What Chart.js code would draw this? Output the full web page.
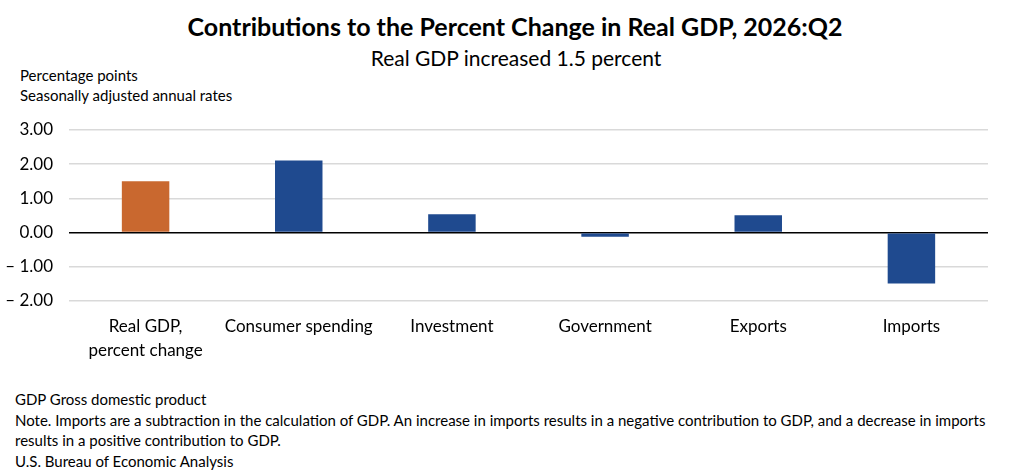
<!DOCTYPE html>
<html>
<head>
<meta charset="utf-8">
<script src="https://cdn.jsdelivr.net/npm/chart.js@4.4.1/dist/chart.umd.min.js"></script>
<style>
  html, body { margin: 0; padding: 0; background: #fff; }
  #page { position: relative; width: 1010px; height: 476px; font-family: Lato, "Noto Sans", sans-serif; color: #000; overflow: hidden; }
  .abs { position: absolute; white-space: nowrap; }
  #title { left: 0; width: 1030px; top: 11px; text-align: center; font-size: 25px; font-weight: bold; }
  #subtitle { left: 0; width: 1032px; top: 45px; text-align: center; font-size: 21px; }
  #ytitle { left: 20px; top: 65px; font-size: 15px; line-height: 20px; }
  #notes { left: 15px; top: 389px; font-size: 15px; line-height: 20.5px; }
  #box { position: absolute; left: 0; top: 110px; width: 1010px; height: 260px; }
</style>
</head>
<body>
<div id="page">
  <div class="abs" id="title">Contributions to the Percent Change in Real GDP, 2026:Q2</div>
  <div class="abs" id="subtitle">Real GDP increased 1.5 percent</div>
  <div class="abs" id="ytitle">Percentage points<br>Seasonally adjusted annual rates</div>
  <div id="box"><canvas id="chart"></canvas></div>
  <div class="abs" id="notes">GDP Gross domestic product<br>Note. Imports are a subtraction in the calculation of GDP. An increase in imports results in a negative contribution to GDP, and a decrease in imports<br>results in a positive contribution to GDP.<br>U.S. Bureau of Economic Analysis</div>
</div>
<script>
"use strict";
// categories and values
var categories = [["Real GDP,", "percent change"], "Consumer spending", "Investment", "Government", "Exports", "Imports"];
var contributions = [1.50, 2.11, 0.54, -0.12, 0.51, -1.49];
var barColors = ["#C9682F", "#1F4A8F", "#1F4A8F", "#1F4A8F", "#1F4A8F", "#1F4A8F"];
var yTicks = [-2, -1, 0, 1, 2, 3];

function fmtTick(v) {
	if (v < 0) return "\u2013 " + Math.abs(v).toFixed(2);
	return v.toFixed(2);
}

new Chart(document.getElementById("chart"), {
	type: "bar",
	data: {
		labels: categories,
		datasets: [{
			data: contributions,
			backgroundColor: barColors,
			categoryPercentage: 1,
			barPercentage: 0.31
		}]
	},
	options: {
		responsive: true,
		maintainAspectRatio: false,
		animation: false,
		layout: { padding: { top: 20, right: 22, left: 0, bottom: 0 } },
		plugins: { legend: { display: false }, tooltip: { enabled: false } },
		scales: {
			x: {
				grid: { display: false, drawTicks: false },
				border: { display: false },
				ticks: {
					color: "#000",
					padding: 14,
					maxRotation: 0,
					autoSkip: false,
					font: { family: "Lato", size: 17, lineHeight: 1.4 }
				},
				afterFit: (scale) => { scale.height = 69; }
			},
			y: {
				min: yTicks[0],
				max: yTicks[yTicks.length - 1],
				afterBuildTicks: (scale) => { scale.ticks = yTicks.map((v) => ({ value: v })); },
				grid: {
					// invisible tick marks keep the labels off the plot without adding top padding
					drawTicks: true,
					tickLength: 16,
					tickColor: "rgba(0,0,0,0)",
					color: (ctx) => ctx.tick && ctx.tick.value === 0 ? "#000" : "#d9d9d9",
					lineWidth: (ctx) => ctx.tick && ctx.tick.value === 0 ? 1.6 : 1.5
				},
				border: { display: false },
				ticks: {
					color: "#000",
					padding: 0,
					font: { family: "Lato", size: 17 },
					callback: (v) => fmtTick(v)
				},
				afterFit: (scale) => { scale.width = 69; }
			}
		}
	}
});
</script>
</body>
</html>
